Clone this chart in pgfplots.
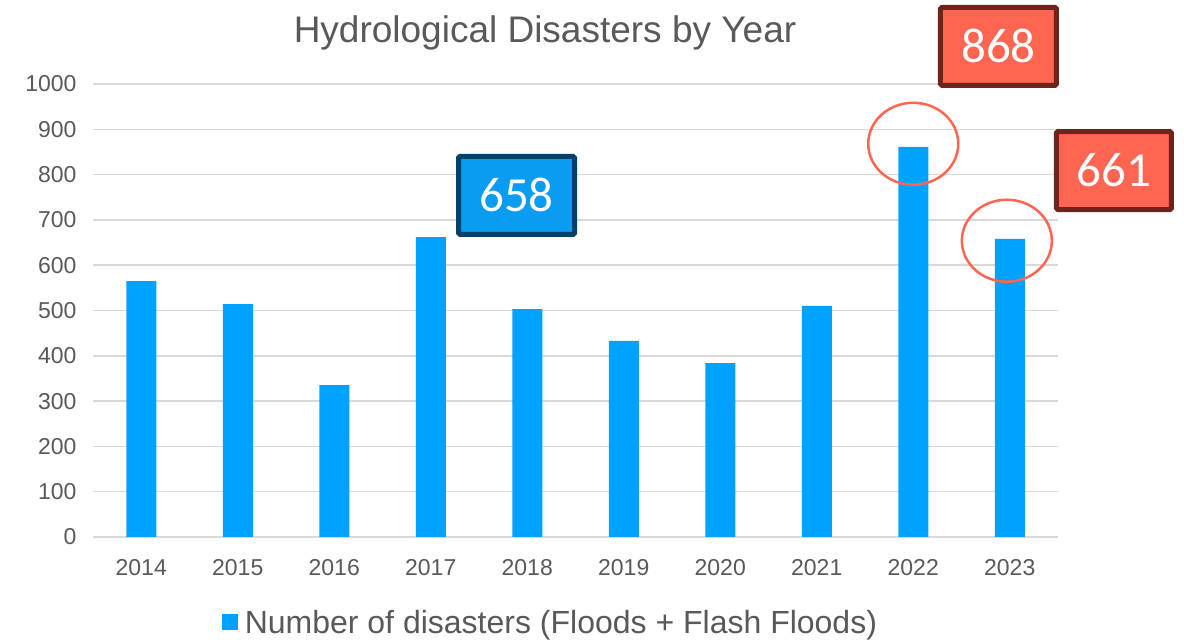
\documentclass[border=0pt]{standalone}
\usepackage{pgfplots}
\pgfplotsset{compat=1.18}
\usepackage{fontspec}
\setmainfont{Liberation Sans}
\newfontfamily\calibri{Carlito}

\definecolor{barblue}{HTML}{00A2FF}
\definecolor{boxblue}{HTML}{0A9CF0}
\definecolor{navy}{HTML}{00416B}
\definecolor{coral}{HTML}{FF6550}
\definecolor{darkred}{HTML}{6E241B}
\definecolor{txtgray}{HTML}{595959}
\definecolor{gridgray}{HTML}{D9D9D9}

\begin{document}
\begin{tikzpicture}
\path[use as bounding box] (0,0) rectangle (1184pt,640pt);
\node[text=txtgray, font=\fontsize{37}{44}\selectfont] at (545pt,607pt) {Hydrological Disasters by Year};
\begin{axis}[
    at={(93pt,103pt)}, anchor=south west,
    width=965pt, height=453pt, scale only axis,
    ybar, bar width=30pt,
    xmin=-0.5, xmax=9.5, ymin=0, ymax=1000,
    xtick={0,...,9},
    xticklabels={2014,2015,2016,2017,2018,2019,2020,2021,2022,2023},
    ytick={0,100,...,1000},
    axis x line=bottom, axis y line=left,
    x axis line style={draw=gridgray, line width=1.5pt, -},
    y axis line style={draw=none},
    major tick length=0pt,
    ymajorgrids, grid style={gridgray, line width=1.5pt},
    tick label style={text=txtgray, font=\fontsize{23}{27}\selectfont},
    yticklabel style={xshift=-13pt},
    xticklabel style={yshift=-19pt},
    /pgf/number format/assume math mode=true,
    /pgf/number format/1000 sep={},
    clip=false,
    legend style={at={(0.474,-0.188)}, anchor=center, draw=none,
                  font=\fontsize{32}{38}\selectfont, text=txtgray},
    legend image code/.code={\fill[barblue] (0pt,-8pt) rectangle (16pt,8pt);},
]
\addplot[fill=barblue, draw=none] coordinates {
    (0,565) (1,514) (2,335) (3,662) (4,503)
    (5,433) (6,384) (7,510) (8,861) (9,658)};
\addlegendentry{\hspace{5pt}Number of disasters (Floods + Flash Floods)}

\draw[coral, line width=2.5pt] (axis cs:8,868) ellipse [x radius=45pt, y radius=41pt];
\draw[coral, line width=2.5pt] (axis cs:8.97,654) ellipse [x radius=45pt, y radius=41pt];

\node[fill=boxblue, draw=navy, line width=5pt, rounded corners=1.5pt,
      minimum width=116pt, minimum height=78pt, text=white,
      font=\calibri\fontsize{49}{56}\selectfont] at (axis cs:3.889,754) {658};
\node[fill=coral, draw=darkred, line width=5pt, rounded corners=1.5pt,
      minimum width=116pt, minimum height=78pt, text=white,
      font=\calibri\fontsize{49}{56}\selectfont] at (axis cs:8.883,1083) {868};
\node[fill=coral, draw=darkred, line width=5pt, rounded corners=1.5pt,
      minimum width=115pt, minimum height=78pt, text=white,
      font=\calibri\fontsize{49}{56}\selectfont] at (axis cs:10.08,809) {661};
\end{axis}
\end{tikzpicture}
\end{document}
